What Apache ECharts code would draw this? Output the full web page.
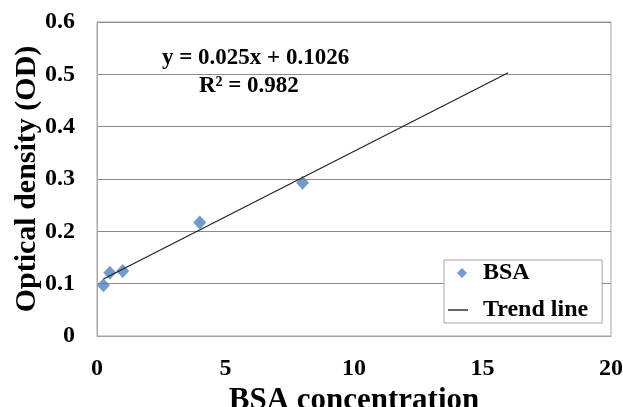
<!DOCTYPE html>
<html>
<head>
<meta charset="utf-8">
<script src="https://cdn.jsdelivr.net/npm/echarts@6/dist/echarts.min.js"></script>
<style>html,body{margin:0;padding:0;background:#fff;}#c{width:623px;height:407px;}</style>
</head>
<body>
<div id="c"></div>
<script>
var bsaX = [0.25, 0.5, 1, 4, 8];
var bsaY = [0.097, 0.121, 0.124, 0.217, 0.293];
var trendX = [0.25, 16];
var trendY = [0.109, 0.503];
var xTicks = [0, 5, 10, 15, 20];
var yTicks = [0, 0.1, 0.2, 0.3, 0.4, 0.5, 0.6];
var eqText = 'y = 0.025x + 0.1026';
var r2Text = 'R² = 0.982';

var font = '"Liberation Serif", "Times New Roman", serif';
var chart = echarts.init(document.getElementById('c'));
chart.setOption({
  animation: false,
  backgroundColor: '#fff',
  grid: { left: 97, right: 12, top: 22, bottom: 71, show: true, borderColor: '#a6a6a6', borderWidth: 1,
    containLabel: false, outerBoundsMode: 'none' },
  xAxis: {
    type: 'value', min: xTicks[0], max: xTicks[xTicks.length-1], interval: 5,
    name: 'BSA concentration', nameLocation: 'middle', nameGap: 49, nameMoveOverlap: false,
    nameTextStyle: { fontFamily: font, fontWeight: 'bold', fontSize: 31, color: '#000' },
    axisLine: { show: true, lineStyle: { color: '#a6a6a6' } },
    axisTick: { show: false },
    splitLine: { show: false },
    axisLabel: { fontFamily: font, fontWeight: 'bold', fontSize: 24, color: '#000', margin: 21,
      formatter: function(v){ return String(v); } }
  },
  yAxis: {
    type: 'value', min: yTicks[0], max: yTicks[yTicks.length-1], interval: 0.1,
    name: 'Optical density (OD)', nameLocation: 'middle', nameGap: 55, nameMoveOverlap: false,
    nameTextStyle: { fontFamily: font, fontWeight: 'bold', fontSize: 30, color: '#000' },
    axisLine: { show: true, lineStyle: { color: '#a6a6a6' } },
    axisTick: { show: false },
    splitLine: { show: true, lineStyle: { color: '#8c8c8c', width: 1 } },
    axisLabel: { fontFamily: font, fontWeight: 'bold', fontSize: 24, color: '#000', margin: 22,
      formatter: function(v){ return String(Math.round(v*10)/10); } }
  },
  legend: {
    orient: 'vertical', left: 444, top: 260,
    backgroundColor: '#fff', borderColor: '#a6a6a6', borderWidth: 1,
    padding: [1, 14, 1, 4], itemGap: 13, itemWidth: 22, itemHeight: 10,
    textStyle: { fontFamily: font, fontWeight: 'bold', fontSize: 24, color: '#000', padding: [0, 0, 0, 8] },
    data: [
      { name: 'BSA', icon: 'path://M0,0 M22,10 M14,0 L19,5 L14,10 L9,5 Z', itemStyle: { color: '#4f81bd' } },
      { name: 'Trend line', icon: 'path://M0,0 M22,10 M0,4.4 L20,4.4 L20,5.6 L0,5.6 Z', itemStyle: { color: '#000' } }
    ]
  },
  graphic: [
    { type: 'text', left: 162, top: 47, style: { text: eqText, fontFamily: font, fontWeight: 'bold', fontSize: 23, fill: '#000' } },
    { type: 'text', left: 199, top: 75, style: { text: r2Text, fontFamily: font, fontWeight: 'bold', fontSize: 23, fill: '#000' } }
  ],
  series: [
    { name: 'Trend line', type: 'line', data: trendX.map(function(x,i){ return [x, trendY[i]]; }),
      showSymbol: false, symbol: 'none', lineStyle: { color: '#222', width: 1.2 }, itemStyle: { color: '#000' }, z: 3 },
    { name: 'BSA', type: 'scatter', data: bsaX.map(function(x,i){ return [x, bsaY[i]]; }),
      symbol: 'diamond', symbolSize: [13, 14], itemStyle: { color: '#4f81bd' }, z: 2 }
  ]
});
</script>
</body>
</html>
